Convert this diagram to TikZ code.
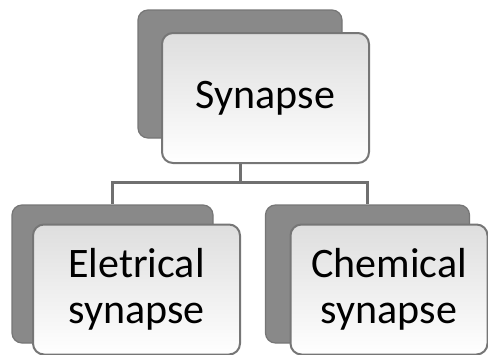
\documentclass[tikz,border=0pt]{standalone}
\usepackage{fontspec}
\setmainfont{Carlito}
\definecolor{backgrey}{HTML}{898989}
\definecolor{backedge}{HTML}{767676}
\definecolor{frontedge}{HTML}{767676}
\definecolor{linkgrey}{HTML}{707070}
\begin{document}
\begin{tikzpicture}[x=1pt,y=-1pt,
  backbox/.style={draw=backedge,fill=backgrey,line width=1.2pt,rounded corners=10pt},
  frontbox/.style={draw=frontedge,line width=2pt,rounded corners=11pt,
    top color=black!13,bottom color=white,
    inner sep=0pt,align=center,
    font=\fontsize{42}{46}\selectfont},
  link/.style={draw=linkgrey,line width=3pt}]
  \useasboundingbox (0,0) rectangle (488,354);

  % top level: Synapse
  \node[backbox,minimum width=204pt,minimum height=128pt] (topback) at (240,74) {};
  \node[frontbox,minimum width=207pt,minimum height=130pt] (topfront) at (265.5,98) {Synapse};

  % second level, left
  \node[backbox,minimum width=201pt,minimum height=138pt] (leftback) at (112.5,274) {};
  \node[frontbox,minimum width=207pt,minimum height=130pt] (leftfront) at (136.5,289.5) {Eletrical\\synapse};

  % second level, right
  \node[backbox,minimum width=204pt,minimum height=138pt] (rightback) at (367.5,274) {};
  \node[frontbox,minimum width=197pt,minimum height=130pt] (rightfront) at (389,289.5) {Chemical\\synapse};

  % connectors
  \coordinate (fork) at (240,182);
  \draw[link] (topback |- topfront.south) -- (fork);
  \draw[link] (fork) -| (leftback.north);
  \draw[link] (fork) -| (rightback.north);
\end{tikzpicture}
\end{document}
